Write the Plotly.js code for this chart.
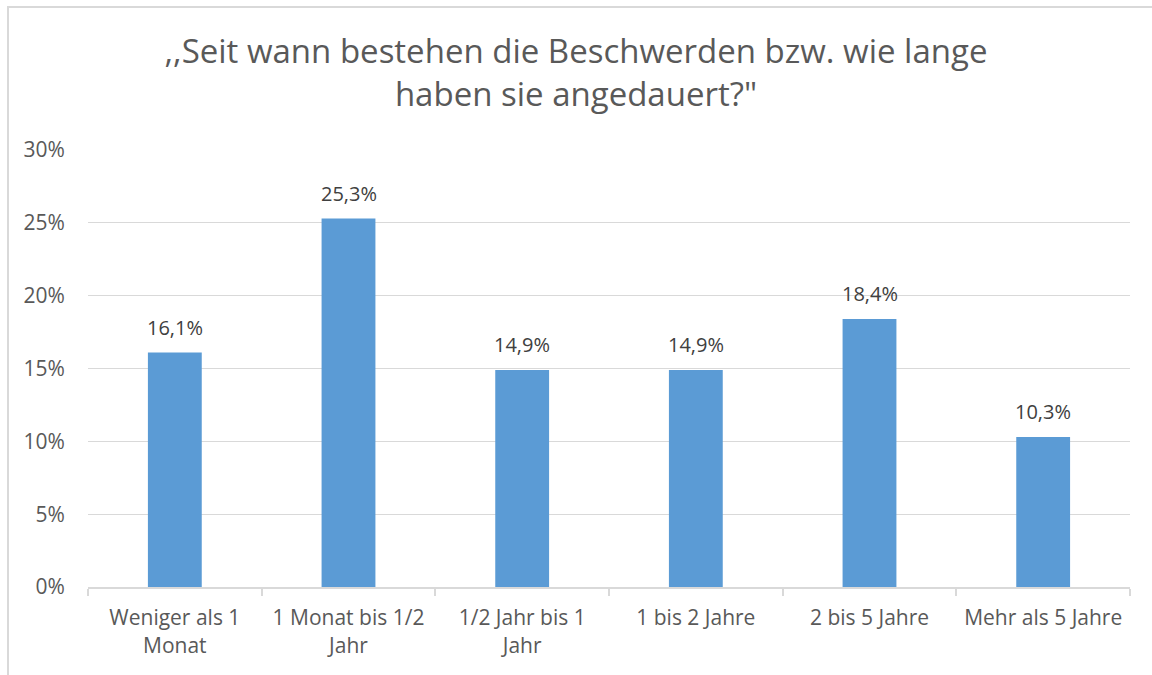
<!DOCTYPE html>
<html>
<head>
<meta charset="utf-8">
<script src="https://cdn.plot.ly/plotly-3.0.1.min.js"></script>
<style>
html,body{margin:0;padding:0;background:#fff;}
#wrap{position:absolute;left:0;top:0;width:1152px;height:675px;}
#frame{position:absolute;left:7px;top:6px;width:1145px;height:669px;border-left:2px solid #D9D9D9;border-top:2px solid #D9D9D9;box-sizing:border-box;pointer-events:none;}
#chart{position:absolute;left:0;top:0;width:1152px;height:675px;}
</style>
</head>
<body>
<div id="wrap"><div id="chart"></div><div id="frame"></div></div>
<script>
const categories = [
  "Weniger als 1<br>Monat",
  "1 Monat bis 1/2<br>Jahr",
  "1/2 Jahr bis 1<br>Jahr",
  "1 bis 2 Jahre",
  "2 bis 5 Jahre",
  "Mehr als 5 Jahre"
];
const values = [16.1, 25.3, 14.9, 14.9, 18.4, 10.3];
const yTicks = [0, 5, 10, 15, 20, 25, 30];
const titleText = ",,Seit wann bestehen die Beschwerden bzw. wie lange<br>haben sie angedauert?\"";

const fontFam = "'Open Sans', sans-serif";
const labels = values.map(v => v.toFixed(1).replace('.', ',') + '%');

const trace = {
  type: 'bar',
  x: categories,
  y: values,
  marker: {color: '#5B9BD5'},
  hoverinfo: 'none'
};

const annotations = values.map((v, i) => ({
  x: categories[i], y: v, xref: 'x', yref: 'y',
  text: labels[i], showarrow: false,
  yanchor: 'middle', yshift: 25,
  font: {family: fontFam, size: 20, color: '#404040'}
}));

const layout = {
  width: 1152, height: 675,
  margin: {l: 88, r: 22, t: 150, b: 88},
  paper_bgcolor: '#ffffff', plot_bgcolor: '#ffffff',
  showlegend: false,
  bargap: 0.69,
  title: {
    text: titleText,
    x: 0.5, xref: 'container', xanchor: 'center',
    y: 0.907, yref: 'container', yanchor: 'middle',
    font: {family: fontFam, size: 33, color: '#595959'}
  },
  xaxis: {
    type: 'category',
    showgrid: false,
    showline: true, linecolor: '#D9D9D9', linewidth: 2,
    ticks: 'outside', tickson: 'boundaries', ticklen: 7, tickcolor: '#D9D9D9', tickwidth: 2,
    ticklabelstandoff: 11,
    tickfont: {family: fontFam, size: 21, color: '#595959'},
    automargin: false
  },
  yaxis: {
    range: [0, 30],
    tickvals: yTicks,
    ticktext: yTicks.map(t => t + '%'),
    showgrid: true, gridcolor: '#D9D9D9', gridwidth: 1,
    zeroline: false, showline: false,
    ticks: 'outside', ticklen: 18, tickcolor: 'rgba(0,0,0,0)',
    tickfont: {family: fontFam, size: 21, color: '#595959'},
    automargin: false
  },
  annotations: annotations
};

Plotly.newPlot('chart', [trace], layout, {displayModeBar: false, staticPlot: true});
</script>
</body>
</html>
